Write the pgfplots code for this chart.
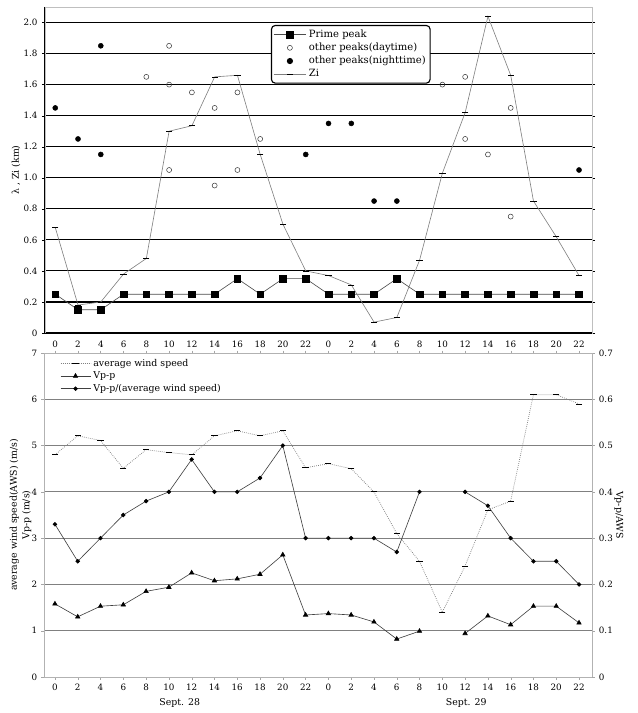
\documentclass[border=0pt]{standalone}
\usepackage{fontspec}
\setmainfont{DejaVu Serif}
\usepackage{pgfplots}
\usepackage{pgfplotstable}
\pgfplotsset{compat=1.18}

% hour index 0..23 = Sept. 28 0h ... Sept. 29 22h
\pgfplotstableread{
x  prime zi
0  0.25  0.68
1  0.15  0.18
2  0.15  0.20
3  0.25  0.38
4  0.25  0.48
5  0.25  1.30
6  0.25  1.335
7  0.25  1.65
8  0.35  1.66
9  0.25  1.15
10 0.35  0.70
11 0.35  0.40
12 0.25  0.37
13 0.25  0.31
14 0.25  0.07
15 0.35  0.10
16 0.25  0.47
17 0.25  1.03
18 0.25  1.42
19 0.25  2.04
20 0.25  1.66
21 0.25  0.85
22 0.25  0.62
23 0.25  0.37
}\toptable

\pgfplotstableread{
x  aws   vpp   ratio
0  4.80  1.58  0.33
1  5.21  1.30  0.25
2  5.11  1.53  0.30
3  4.51  1.56  0.35
4  4.91  1.85  0.38
5  4.85  1.94  0.40
6  4.80  2.25  0.47
7  5.21  2.08  0.40
8  5.32  2.12  0.40
9  5.21  2.22  0.43
10 5.32  2.64  0.50
11 4.52  1.34  0.30
12 4.61  1.37  0.30
13 4.50  1.34  0.30
14 4.00  1.19  0.30
15 3.10  0.82  0.27
16 2.50  0.99  0.40
17 1.40  nan   nan
18 2.40  0.94  0.40
19 3.61  1.32  0.37
20 3.80  1.13  0.30
21 6.10  1.53  0.25
22 6.10  1.53  0.25
23 5.90  1.17  0.20
}\bottable

\pgfplotsset{
  every axis/.append style={font=\fontsize{7.5}{9}\selectfont},
  every tick label/.append style={font=\fontsize{7}{8}\selectfont},
  /pgf/number format/assume math mode=true,
  hourticks/.style={
    xtick={0,...,23},
    xticklabels={0,2,4,6,8,10,12,14,16,18,20,22,0,2,4,6,8,10,12,14,16,18,20,22},
  },
  legimg/.style={legend image code/.code={
    \draw[mark repeat=2,mark phase=2,##1] plot coordinates {(0pt,0pt) (#1,0pt) (2*#1,0pt)};}},
  awsstyle/.style={gray, densely dotted, line width=0.6pt, mark=-, mark size=2.5pt, mark options={solid, black}},
  vppstyle/.style={black!75, line width=0.5pt, mark=triangle*, mark size=2pt, mark options={solid, black}},
  ratiostyle/.style={black!75, line width=0.5pt, mark=*, mark size=1.5pt, mark options={solid, black}},
}

\begin{document}
\begin{tikzpicture}
\path[use as bounding box] (-36pt,-304pt) rectangle (474.4pt,266.4pt);

\begin{axis}[
  scale only axis, width=437.6pt, height=260.8pt,
  xmin=-0.45, xmax=23.57, ymin=0, ymax=2.1,
  hourticks,
  ytick={0,0.2,0.4,0.6,0.8,1.0,1.2,1.4,1.6,1.8,2.0},
  yticklabels={0,0.2,0.4,0.6,0.8,1.0,1.2,1.4,1.6,1.8,2.0},
  major x tick style={draw=none},
  major y tick style={black},
  tick align=outside, major tick length=2.5pt,
  ymajorgrids, grid style={black, line width=0.9pt},
  axis line style={gray!50, line width=0.5pt},
  clip=false,
  every axis y label/.style={at={(axis description cs:-0.053,0.5)}, rotate=90, anchor=center},
  ylabel={λ , Zi (km)},
  legimg=13pt,
  legend style={at={(0.413,0.945)}, anchor=north west, draw=black, line width=0.9pt,
    rounded corners=3pt, fill=white, inner sep=1.5pt, row sep=-1pt,
    cells={anchor=west}, font=\fontsize{8}{9.4}\selectfont},
]
\addplot[black!70, line width=0.5pt, mark=square*, mark size=2.7pt, mark options={black}]
  table[x=x, y=prime] {\toptable};
\addlegendentry{Prime peak}
\addplot[only marks, mark=o, mark size=2pt, mark options={black!80, line width=0.4pt}]
  coordinates {(4,1.65) (5,1.85) (5,1.60) (5,1.05) (6,1.55) (7,1.45) (7,0.95)
               (8,1.55) (8,1.05) (9,1.25) (17,1.60) (18,1.65) (18,1.25) (19,1.15)
               (20,1.45) (20,0.75)};
\addlegendentry{other peaks(daytime)}
\addplot[only marks, mark=*, mark size=2pt, black]
  coordinates {(0,1.45) (1,1.25) (2,1.85) (2,1.15) (11,1.15) (12,1.35) (13,1.35)
               (14,0.85) (15,0.85) (23,1.05)};
\addlegendentry{other peaks(nighttime)}
\addplot[gray, line width=0.5pt, mark=-, mark size=2.5pt, mark options={black}]
  table[x=x, y=zi] {\toptable};
\addlegendentry{Zi}
\draw[black, line width=0.8pt] (rel axis cs:0,1) -- (rel axis cs:0,0) -- (rel axis cs:1,0);
\end{axis}

\begin{axis}[
  at={(-0.8pt,-16pt)}, anchor=north west,
  scale only axis, width=438.4pt, height=259.2pt,
  xmin=-0.48, xmax=23.57, ymin=0, ymax=7,
  hourticks, ytick={0,...,7},
  ymajorgrids, grid style={gray, line width=0.7pt},
  axis line style={gray!60, line width=0.5pt},
  tick style={gray!70}, tick align=outside, major tick length=2pt,
  unbounded coords=jump, clip=false,
  every axis y label/.style={at={(axis description cs:-0.043,0.5)}, rotate=90, anchor=center,
    align=center, font=\fontsize{7.5}{10}\selectfont},
  ylabel={average wind speed(AWS) (m/s)\\Vp-p (m/s)},
]
\addplot[awsstyle] table[x=x, y=aws] {\bottable};
\addplot[vppstyle] table[x=x, y=vpp] {\bottable};
\node at (axis cs:5.48,0) [yshift=-21pt] {Sept. 28};
\node at (axis cs:18.05,0) [yshift=-21pt] {Sept. 29};
\end{axis}

\begin{axis}[
  at={(-0.8pt,-16pt)}, anchor=north west,
  scale only axis, width=438.4pt, height=259.2pt,
  xmin=-0.48, xmax=23.57, ymin=0, ymax=0.7,
  axis x line=none, axis y line*=right,
  ytick={0,0.1,0.2,0.3,0.4,0.5,0.6,0.7},
  yticklabels={0,0.1,0.2,0.3,0.4,0.5,0.6,0.7},
  axis line style={gray!60, line width=0.5pt},
  tick style={gray!70}, tick align=outside, major tick length=2pt,
  unbounded coords=jump,
  every axis y label/.style={at={(axis description cs:1.049,0.5)}, rotate=-90, anchor=center},
  ylabel={Vp-p/AWS},
  legimg=12pt,
  legend style={at={(0.029,0.99)}, anchor=north west, draw=none, fill=none,
    inner sep=0pt, row sep=-1pt, cells={anchor=west}, font=\fontsize{7.5}{9}\selectfont},
]
\addlegendimage{awsstyle}
\addlegendentry{average wind speed}
\addlegendimage{vppstyle}
\addlegendentry{Vp-p}
\addplot[ratiostyle] table[x=x, y=ratio] {\bottable};
\addlegendentry{Vp-p/(average wind speed)}
\end{axis}
\end{tikzpicture}
\end{document}
